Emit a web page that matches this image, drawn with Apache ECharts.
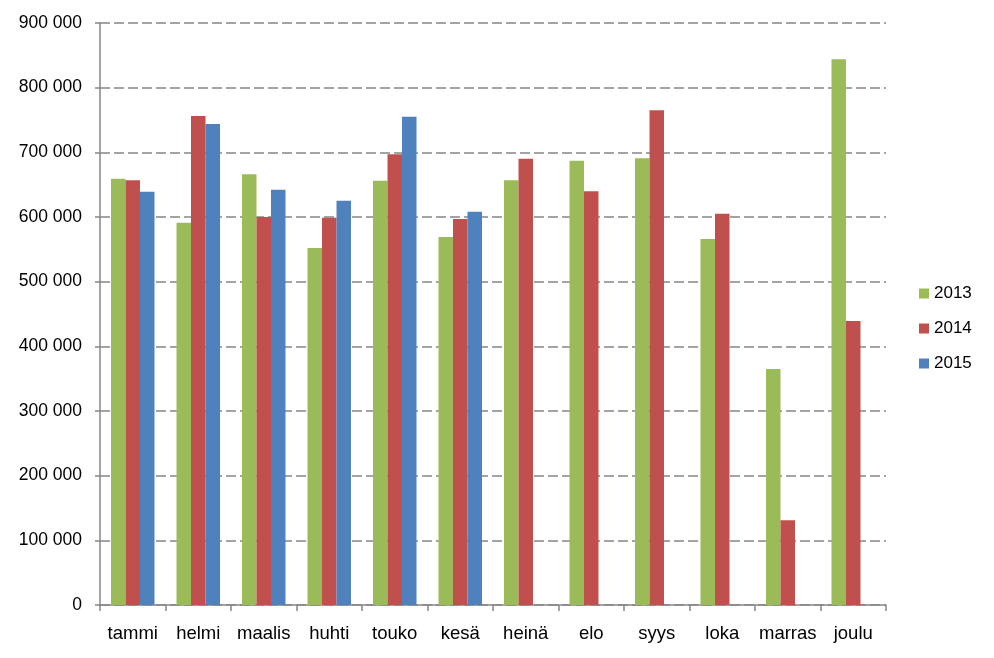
<!DOCTYPE html>
<html>
<head>
<meta charset="utf-8">
<script src="https://cdn.jsdelivr.net/npm/echarts@6/dist/echarts.min.js"></script>
<style>html,body{margin:0;padding:0;background:#fff}#c{width:994px;height:658px}</style>
</head>
<body>
<div id="c"></div>
<script>
const categories = ['tammi','helmi','maalis','huhti','touko','kesä','heinä','elo','syys','loka','marras','joulu'];
const s2013 = [659000, 591000, 666000, 552000, 656000, 569000, 657000, 687000, 691000, 566000, 365000, 844000];
const s2014 = [657000, 756000, 600000, 599000, 697000, 597000, 690000, 640000, 765000, 605000, 131000, 439000];
const s2015 = [639000, 744000, 642000, 625000, 755000, 608000, null, null, null, null, null, null];
const yTicks = {min: 0, max: 900000, interval: 100000};

function fmt(v){ return String(v).replace(/\B(?=(\d{3})+(?!\d))/g, ' '); }

const chart = echarts.init(document.getElementById('c'), null, {renderer: 'canvas'});
const font = 'Liberation Sans, Arial, sans-serif';
chart.setOption({
  animation: false,
  backgroundColor: '#fff',
  grid: {left: 100, right: 108, top: 23, bottom: 53, containLabel: false},
  legend: {
    orient: 'vertical', left: 914, top: 280, itemWidth: 10, itemHeight: 10, itemGap: 18,
    icon: 'rect', textStyle: {fontFamily: font, fontSize: 17, color: '#000'},
    data: ['2013','2014','2015']
  },
  xAxis: {
    type: 'category', data: categories,
    axisLine: {lineStyle: {color: '#868686', width: 1.5}},
    axisTick: {show: true, interval: 0, length: 6, alignWithLabel: false, lineStyle: {color: '#868686', width: 1.5}},
    axisLabel: {interval: 0, hideOverlap: false, fontFamily: font, fontSize: 18.5, color: '#000', margin: 19}
  },
  yAxis: {
    type: 'value', min: yTicks.min, max: yTicks.max, interval: yTicks.interval,
    axisLine: {show: true, lineStyle: {color: '#868686', width: 1.5}},
    axisTick: {show: true, length: 5, lineStyle: {color: '#868686', width: 1.5}},
    axisLabel: {fontFamily: font, fontSize: 17.5, color: '#000', margin: 18, formatter: fmt},
    splitLine: {lineStyle: {color: '#868686', width: 1.5, type: [10, 4]}}
  },
  series: [
    {name: '2013', type: 'bar', data: s2013, barWidth: 14.5, barGap: '0%', itemStyle: {color: '#9BBB59'}},
    {name: '2014', type: 'bar', data: s2014, barWidth: 14.5, barGap: '0%', itemStyle: {color: '#C0504D'}},
    {name: '2015', type: 'bar', data: s2015, barWidth: 14.5, barGap: '0%', itemStyle: {color: '#4F81BD'}}
  ]
});
</script>
</body>
</html>
